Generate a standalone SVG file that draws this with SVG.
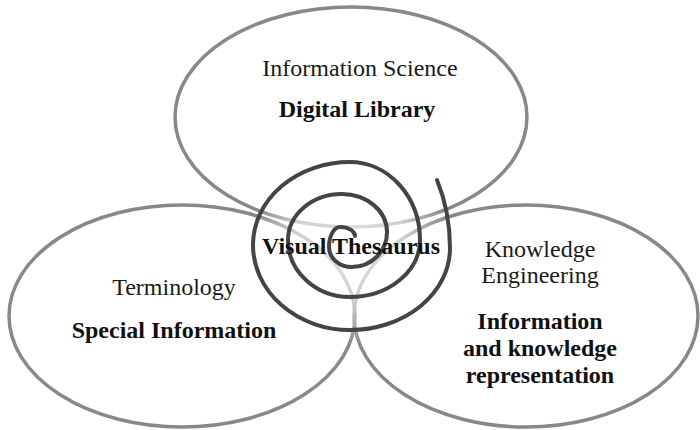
<svg xmlns="http://www.w3.org/2000/svg" width="700" height="430" viewBox="0 0 700 430">
  <defs>
    <style>
      .ell { fill: none; stroke: #888888; stroke-width: 3.5; }
      .reg { font-family: "Liberation Serif", "Times New Roman", serif; font-size: 24px; fill: #1a1a1a; text-anchor: middle; }
      .bold { font-family: "Liberation Serif", "Times New Roman", serif; font-size: 24px; font-weight: bold; fill: #111; text-anchor: middle; }
      .spiral { fill: none; stroke: #444444; stroke-width: 4; stroke-linecap: round; }
    </style>
    <radialGradient id="glow" cx="350" cy="245" r="100" gradientUnits="userSpaceOnUse">
      <stop offset="0" stop-color="#ffffff" stop-opacity="0.75"/>
      <stop offset="0.55" stop-color="#ffffff" stop-opacity="0.6"/>
      <stop offset="1" stop-color="#ffffff" stop-opacity="0"/>
    </radialGradient>
  </defs>
  <rect width="700" height="430" fill="#ffffff"/>

  <g id="information-science">
    <ellipse class="ell" cx="351" cy="117" rx="176" ry="110"/>
  </g>
  <g id="terminology">
    <ellipse class="ell" cx="182" cy="316" rx="173" ry="111"/>
  </g>
  <g id="knowledge-engineering">
    <ellipse class="ell" cx="526" cy="316" rx="172" ry="111"/>
  </g>

  <g id="visual-thesaurus">
    <circle cx="350" cy="245" r="100" fill="url(#glow)"/>
    <path class="spiral" d="M 355 236 A 15 9 0 0 0 340 227 A 11 20 0 0 0 329 247 A 23 20 0 0 0 352 267 A 35 35 0 0 0 387 232 A 45 38 0 0 0 342 194 A 54 46 0 0 0 288 240 A 62 57 0 0 0 350 297 A 70 57 0 0 0 420 240 A 70 78 0 0 0 350 162 A 97 83 0 0 0 253 245 A 97 85 0 0 0 350 330 A 100 82 0 0 0 450 248 A 100 138 0 0 0 437 180"/>
    <text class="bold" x="351" y="254">Visual Thesaurus</text>
  </g>

  <g id="labels">
    <text class="reg" x="360" y="76">Information Science</text>
    <text class="bold" x="357" y="117">Digital Library</text>
    <text class="reg" x="174" y="295">Terminology</text>
    <text class="bold" x="174" y="338">Special Information</text>
    <text class="reg" x="540" y="257">Knowledge</text>
    <text class="reg" x="540" y="283">Engineering</text>
    <text class="bold" x="540" y="329">Information</text>
    <text class="bold" x="540" y="356">and knowledge</text>
    <text class="bold" x="540" y="383">representation</text>
  </g>
</svg>
